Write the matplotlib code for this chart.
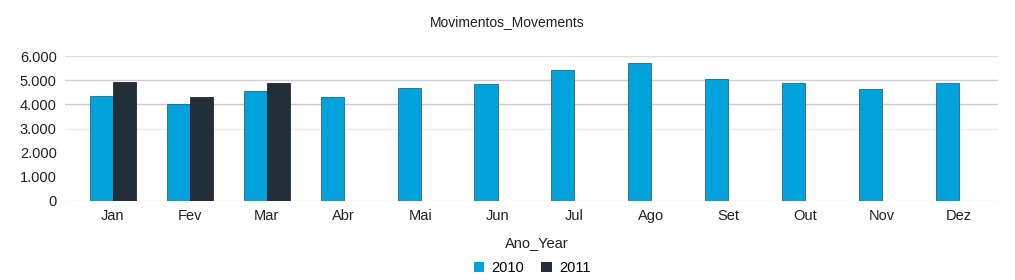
import matplotlib
matplotlib.use("Agg")
import matplotlib.pyplot as plt
import numpy as np
from matplotlib.patches import Patch

months = ["Jan", "Fev", "Mar", "Abr", "Mai", "Jun", "Jul", "Ago", "Set", "Out", "Nov", "Dez"]
values_2010 = [4360, 4000, 4550, 4320, 4690, 4840, 5410, 5700, 5050, 4880, 4630, 4870]
values_2011 = [4930, 4320, 4870]
yticks = [0, 1000, 2000, 3000, 4000, 5000, 6000]
ytick_labels = ["0", "1.000", "2.000", "3.000", "4.000", "5.000", "6.000"]

c2010 = "#02a2dc"
c2011 = "#232f38"

plt.rcParams['font.family'] = ['Liberation Sans', 'DejaVu Sans']

fig = plt.figure(figsize=(10.15, 2.8), dpi=100)
W, H = 1015, 280
left, right, top, bottom = 65, 998, 56, 201
ax = fig.add_axes([left / W, 1 - bottom / H, (right - left) / W, (bottom - top) / H])

x = np.arange(len(months))
bw = 0.3
ax.bar(x - bw / 2, values_2010, width=bw, color=c2010, edgecolor="#1d4f66", linewidth=0.5, zorder=3)
ax.bar(x[:len(values_2011)] + bw / 2, values_2011, width=bw, color=c2011, edgecolor="#111111", linewidth=0.5, zorder=3)

ax.set_xlim(-0.624, 11.507)
ax.set_ylim(0, 6000)

for s in ax.spines.values():
    s.set_visible(False)

grid_colors = {0: "#e6e6ee", 3000: "#ececf0", 4000: "#c9c7dc", 5000: "#cfcde0", 6000: "#dddce8"}
for yv, col in grid_colors.items():
    ax.axhline(yv, color=col, linewidth=1, zorder=1)

ax.set_yticks(yticks)
ax.set_yticklabels(ytick_labels, fontsize=10.5, color="#222222")
ax.set_xticks(x)
ax.set_xticklabels(months, fontsize=10.5, color="#222222")
ax.tick_params(axis='both', length=0)
ax.tick_params(axis='y', pad=6)
ax.tick_params(axis='x', pad=6)

fig.text(507 / W, 1 - 22 / H, "Movimentos_Movements", ha="center", va="center", fontsize=10, color="#222222")
fig.text(537 / W, 1 - 243 / H, "Ano_Year", ha="center", va="center", fontsize=10.5, color="#222222")

handles = [Patch(facecolor=c2010, edgecolor="none"), Patch(facecolor=c2011, edgecolor="none")]
fig.legend(handles, ["2010", "2011"], loc="center", bbox_to_anchor=(532 / W, 1 - 268 / H), ncol=2,
           frameon=False, fontsize=10.5, handlelength=0.7, handleheight=0.7, handletextpad=0.5,
           columnspacing=1.2, borderpad=0)

fig.savefig("out.png", dpi=100)
